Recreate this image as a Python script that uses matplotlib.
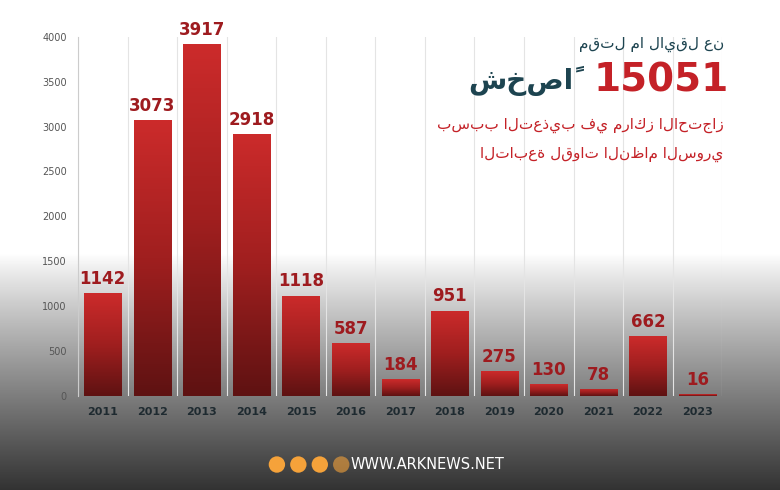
import matplotlib as mpl

mpl.use("Agg")

import matplotlib.pyplot as plt
import numpy as np
from matplotlib.colors import LinearSegmentedColormap
from matplotlib.patches import Ellipse

years = ["2011", "2012", "2013", "2014", "2015", "2016", "2017", "2018", "2019", "2020", "2021", "2022", "2023"]
deaths = [1142, 3073, 3917, 2918, 1118, 587, 184, 951, 275, 130, 78, 662, 16]
yticks = [0, 500, 1000, 1500, 2000, 2500, 3000, 3500, 4000]

title_lines = ["مقتل ما لايقل عن", "شخصاً", "بسبب التعذيب في مراكز الاحتجاز", "التابعة لقوات النظام السوري"]

fig = plt.figure(figsize=(7.8, 4.9), dpi=100)

# background: white top, grey gradient at bottom
bg = fig.add_axes([0, 0, 1, 1], zorder=0)
bg.axis("off")
ys = np.linspace(0, 1, 300)
shade = np.clip((0.48 - ys) / 0.48, 0, 1) ** 0.9
rgb = 1 - shade[:, None] * (1 - np.array([0.2, 0.2, 0.2]))
img = np.repeat(rgb[:, None, :], 2, axis=1)
bg.imshow(img, extent=[0, 1, 0, 1], origin="lower", aspect="auto")
bg.set_xlim(0, 1)
bg.set_ylim(0, 1)

ax = fig.add_axes([0.1, 0.192, 0.826, 0.733], zorder=1)
ax.patch.set_alpha(0)
x = np.arange(len(years))
bars = ax.bar(x, deaths, width=0.75, color="#b02424", zorder=2)
cmap = LinearSegmentedColormap.from_list("bar", ["#5e1212", "#a01f1f", "#cc2b2b"])
grad = np.linspace(0, 1, 256)[:, None]
for b in bars:
    x0, w, h = b.get_x(), b.get_width(), b.get_height()
    im = ax.imshow(grad, extent=[x0, x0 + w, 0, h], origin="lower", cmap=cmap, aspect="auto", zorder=3)
    im.set_clip_path(b)
for xi, v in zip(x, deaths):
    ax.text(xi, v + 60, str(v), ha="center", va="bottom", fontsize=12, fontweight="bold", color="#9e1b1f", zorder=4)

for xv in np.arange(-0.5, 13, 1):
    ax.axvline(xv, color="#e4e4e4", lw=0.8, zorder=1)

ax.set_xlim(-0.5, 12.5)
ax.set_ylim(0, 4000)
ax.set_xticks(x)
ax.set_xticklabels(years, fontsize=8, fontweight="bold", color="#1e2a30")
ax.set_yticks(yticks)
ax.set_yticklabels([str(t) for t in yticks], fontsize=7, color="#555555")
ax.tick_params(length=0, pad=8)
for s in ["top", "right", "bottom"]:
    ax.spines[s].set_visible(False)
ax.spines["left"].set_color("#cccccc")

# title block
fig.text(0.928, 0.91, title_lines[0], ha="right", va="center", fontsize=11, color="#1d4450")
fig.text(0.935, 0.835, str(sum(deaths)), ha="right", va="center", fontsize=28, fontweight="bold", color="#c42127")
fig.text(0.735, 0.835, title_lines[1], ha="right", va="center", fontsize=20, fontweight="bold", color="#1d4450")
fig.text(0.928, 0.745, title_lines[2], ha="right", va="center", fontsize=11, color="#c42127")
fig.text(0.928, 0.685, title_lines[3], ha="right", va="center", fontsize=11, color="#c42127")

# footer
r = 0.0105
for i in range(4):
    fig.add_artist(Ellipse((0.355 + i * 0.0275, 0.052), 2 * r, 2 * r * 7.8 / 4.9, transform=fig.transFigure,
                           facecolor="#f5a23a", edgecolor="none", alpha=1 if i < 3 else 0.6))
fig.text(0.45, 0.052, "WWW.ARKNEWS.NET", ha="left", va="center", fontsize=10.5, color="white")

fig.savefig("out.png", dpi=100)
